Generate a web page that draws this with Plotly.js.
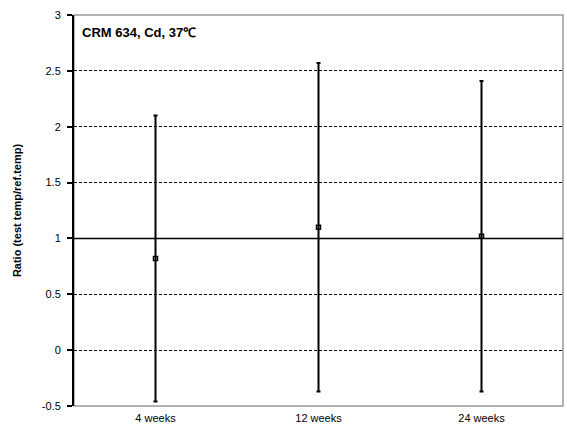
<!DOCTYPE html>
<html>
<head>
<meta charset="utf-8">
<script src="https://cdn.plot.ly/plotly-3.0.1.min.js"></script>
<style>html,body{margin:0;padding:0;background:#fff;}#chart{width:567px;height:432px;}</style>
</head>
<body>
<div id="chart"></div>
<script>
const categories = ["4 weeks", "12 weeks", "24 weeks"];
const ratios = [0.82, 1.10, 1.02];
const uncertainties = [1.28, 1.47, 1.39];
const yTickVals = [-0.5, 0, 0.5, 1, 1.5, 2, 2.5, 3];
const yTickText = ["-0.5", "0", "0.5", "1", "1.5", "2", "2.5", "3"];
const referenceRatio = 1;
const chartLabel = "CRM 634, Cd, 37\u2103";

const trace = {
  type: "scatter",
  mode: "markers",
  x: categories,
  y: ratios,
  marker: {symbol: "square-open", size: 4, color: "#000", line: {width: 1.5, color: "#000"}},
  error_y: {type: "data", array: uncertainties, visible: true, color: "#000", thickness: 2, width: 2},
  showlegend: false,
  hoverinfo: "skip"
};

const layout = {
  width: 567, height: 432,
  margin: {l: 74, r: 4, t: 15, b: 26},
  paper_bgcolor: "#fff", plot_bgcolor: "#fff",
  font: {family: "Liberation Sans, Arial, sans-serif", size: 11, color: "#000"},
  xaxis: {
    type: "category", range: [-0.5, 2.5],
    showgrid: false, zeroline: false, showline: false,
    ticks: "", tickfont: {size: 11}, ticklabelstandoff: 4
  },
  yaxis: {
    range: [-0.5, 3], tickvals: yTickVals, ticktext: yTickText,
    showgrid: true, gridcolor: "#000", gridwidth: 1, griddash: "3px,2px",
    zeroline: false, showline: true, linecolor: "#000", linewidth: 2,
    ticks: "outside", ticklen: 5, tickwidth: 2, tickcolor: "#000",
    ticklabelstandoff: 4,
    tickfont: {size: 11},
    title: {text: "Ratio (test temp/ref.temp)", font: {size: 11, weight: "bold"}, standoff: 18}
  },
  shapes: [
    {type: "rect", xref: "paper", yref: "paper", x0: 0, x1: 1, y0: 0, y1: 1,
     line: {color: "#999", width: 1.5}, fillcolor: "rgba(0,0,0,0)", layer: "below"},
    {type: "line", xref: "paper", yref: "y", x0: 0, x1: 1, y0: referenceRatio, y1: referenceRatio,
     line: {color: "#000", width: 1.5}, layer: "below"}
  ],
  annotations: [
    {text: "<b>" + chartLabel + "</b>", xref: "paper", yref: "paper", x: 0.012, y: 0.955,
     xanchor: "left", yanchor: "middle", showarrow: false, font: {size: 13, color: "#000"}}
  ]
};

Plotly.newPlot("chart", [trace], layout, {staticPlot: true, displayModeBar: false});
</script>
</body>
</html>
